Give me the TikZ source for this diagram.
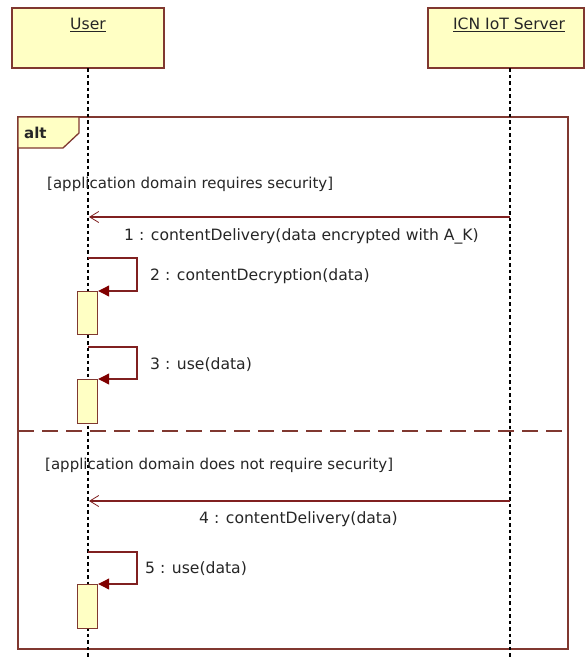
\documentclass[tikz,border=0pt]{standalone}
\usepackage{fontspec}
\setmainfont{DejaVu Sans}
\usetikzlibrary{arrows.meta}
\definecolor{boxfill}{RGB}{255,255,196}
\definecolor{boxline}{RGB}{128,56,48}
\definecolor{msgline}{RGB}{128,32,32}
\definecolor{headfill}{RGB}{128,0,0}
\tikzset{
  x=1pt,y=-1pt,
  lbl/.style={font=\fontsize{15.6}{18}\selectfont, text=black!85, inner sep=0pt, anchor=west},
  guard/.style={lbl, font=\fontsize{15}{17}\selectfont},
  actor/.style={draw=boxline, line width=1.3pt, fill=boxfill},
  life/.style={black, line width=1.3pt, dash pattern=on 3.5pt off 3pt},
  msg/.style={draw=msgline, line width=1.1pt},
  openhead/.style={-{Straight Barb[length=9pt,width=11pt,line width=0.8pt]}},
  fillhead/.style={-{Triangle[length=11pt,width=11pt,fill=headfill,color=headfill]}},
  act/.style={draw=boxline, line width=1.2pt, fill=boxfill},
}
\begin{document}
\begin{tikzpicture}
\useasboundingbox (0,0) rectangle (585,657);
\fill[white] (0,0) rectangle (585,657);
% frame
\draw[draw=boxline, line width=1.3pt] (18,117) rectangle (568,649);
\draw[draw=boxline, line width=1.3pt, fill=boxfill] (18,117) -- (79,117) -- (79,133) -- (63,148) -- (18,148) -- cycle;
\node[lbl, font=\fontsize{15}{17}\selectfont\bfseries] (alt) at (24,133) {alt};
% separator
\draw[draw=boxline, line width=1.2pt, dash pattern=on 16pt off 8pt] (18,431) -- (568,431);
% actors
\draw[actor] (12,8) rectangle (164,68);
\draw[actor] (428,8) rectangle (584,68);
\node[lbl, anchor=center] (user) at (88,25) {\underline{User}};
\node[lbl, anchor=center] (srv) at (509,25) {\underline{ICN IoT Server}};
\coordinate (ut) at (88,68);
\coordinate (ub) at (88,657);
\coordinate (st) at (510,68);
\coordinate (sb) at (510,657);
\draw[life] (ut) -- (ub);
\draw[life] (st) -- (sb);
% guard 1
\node[guard] (g1) at (47,184) {[application domain requires security]};
% message 1
\coordinate (m1s) at (510,217);
\coordinate (m1e) at (89,217);
\draw[msg, openhead] (m1s) -- (m1e);
\node[lbl] (l1) at (124,236) {1 : contentDelivery(data encrypted with A\_K)};
% activation 1 and self msg 2
\node[act, minimum width=20pt, minimum height=43pt, inner sep=0pt, anchor=north west] (a1) at (77,291) {};
\coordinate (s2a) at (88,258);
\coordinate (s2b) at (137,258);
\coordinate (s2c) at (137,291);
\draw[msg, fillhead] (s2a) -- (s2b) -- (s2c) -- (a1.north east);
\node[lbl] (l2) at (150,276) {2 : contentDecryption(data)};
% activation 2 and self msg 3
\node[act, minimum width=20pt, minimum height=44pt, inner sep=0pt, anchor=north west] (a2) at (77,379) {};
\coordinate (s3a) at (88,347);
\coordinate (s3b) at (137,347);
\coordinate (s3c) at (137,379);
\draw[msg, fillhead] (s3a) -- (s3b) -- (s3c) -- (a2.north east);
\node[lbl] (l3) at (150,365) {3 : use(data)};
% guard 2
\node[guard] (g2) at (45,465) {[application domain does not require security]};
% message 4
\coordinate (m4s) at (510,501);
\coordinate (m4e) at (89,501);
\draw[msg, openhead] (m4s) -- (m4e);
\node[lbl] (l4) at (199,519) {4 : contentDelivery(data)};
% activation 3 and self msg 5
\node[act, minimum width=20pt, minimum height=44pt, inner sep=0pt, anchor=north west] (a3) at (77,584) {};
\coordinate (s5a) at (88,552);
\coordinate (s5b) at (137,552);
\coordinate (s5c) at (137,584);
\draw[msg, fillhead] (s5a) -- (s5b) -- (s5c) -- (a3.north east);
\node[lbl] (l5) at (145,569) {5 : use(data)};
\end{tikzpicture}
\end{document}
